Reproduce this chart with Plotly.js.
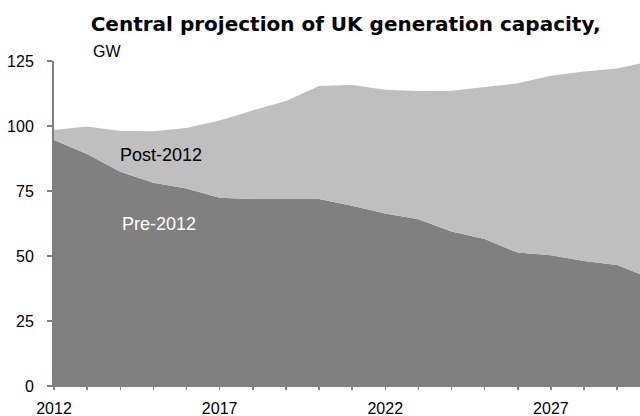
<!DOCTYPE html>
<html>
<head>
<meta charset="utf-8">
<script src="https://cdn.plot.ly/plotly-3.0.1.min.js"></script>
<style>
  html, body { margin: 0; padding: 0; background: #ffffff; }
  #chart { width: 640px; height: 416px; }
</style>
</head>
<body>
<div id="chart"></div>
<script>
// ---- Data (GW) ----
const years = [2012, 2013, 2014, 2015, 2016, 2017, 2018, 2019, 2020, 2021,
               2022, 2023, 2024, 2025, 2026, 2027, 2028, 2029, 2030];
const pre2012 = [94.6, 89.2, 82.4, 78.2, 76.0, 72.4, 71.9, 71.9, 71.9, 69.3,
                 66.3, 64.1, 59.4, 56.5, 51.3, 50.3, 48.1, 46.5, 41.6];
const post2012 = [3.9, 10.6, 15.7, 19.8, 23.2, 29.7, 34.1, 37.7, 43.5, 46.5,
                  47.6, 49.4, 54.2, 58.6, 65.1, 69.0, 72.9, 75.6, 83.3];
const xTickVals = [2012, 2017, 2022, 2027];
const xTickText = ['2012', '2017', '2022', '2027'];
const yTickVals = [0, 25, 50, 75, 100, 125];
const seriesNames = ['Pre-2012', 'Post-2012'];
const titleText = 'Central projection of UK generation capacity,';
const unitText = 'GW';

const baseFont = 'Liberation Sans, Arial, sans-serif';

const traces = [
  {
    x: years, y: pre2012, name: seriesNames[0],
    type: 'scatter', mode: 'lines', stackgroup: 'one',
    line: { width: 0, color: '#808080' }, fillcolor: '#808080',
    hoverinfo: 'skip'
  },
  {
    x: years, y: post2012, name: seriesNames[1],
    type: 'scatter', mode: 'lines', stackgroup: 'one',
    line: { width: 0, color: '#bfbfbf' }, fillcolor: '#bfbfbf',
    hoverinfo: 'skip'
  }
];

const layout = {
  width: 640, height: 416,
  margin: { l: 54, r: 0, t: 61, b: 30, pad: 0 },
  paper_bgcolor: '#ffffff', plot_bgcolor: '#ffffff',
  showlegend: false,
  font: { family: baseFont, size: 16, color: '#000000' },
  title: {
    text: '<b>' + titleText + '</b>',
    font: { family: 'DejaVu Sans, sans-serif', size: 20, color: '#000000' },
    x: 90.7 / 640, xanchor: 'left', xref: 'container',
    y: 0.958, yanchor: 'top', yref: 'container'
  },
  xaxis: {
    range: [2012, 2029.69],
    tickvals: xTickVals, ticktext: xTickText,
    ticks: 'outside', ticklen: 3, tickwidth: 1.5, tickcolor: '#808080',
    minor: { dtick: 1, tick0: 2012, ticks: 'outside', ticklen: 3, tickwidth: 1.5, tickcolor: '#808080', showgrid: false },
    showline: true, linecolor: '#808080', linewidth: 1,
    showgrid: false, zeroline: false,
    tickfont: { family: baseFont, size: 16, color: '#000000' },
    ticklabelstandoff: 5
  },
  yaxis: {
    range: [0, 125],
    tickvals: yTickVals,
    ticks: 'outside', ticklen: 5, tickwidth: 1.5, tickcolor: '#808080',
    showline: true, linecolor: '#808080', linewidth: 2,
    showgrid: false, zeroline: false,
    tickfont: { family: baseFont, size: 16, color: '#000000' },
    ticklabelstandoff: 10
  },
  annotations: [
    {
      text: unitText, xref: 'paper', yref: 'paper',
      x: (90.7 - 54) / 586, y: 1 + (61 - 51) / 325,
      xanchor: 'left', yanchor: 'middle', showarrow: false,
      font: { family: baseFont, size: 16, color: '#000000' }
    },
    {
      text: seriesNames[1], xref: 'x', yref: 'y',
      x: 2015.23, y: 88.7, xanchor: 'center', yanchor: 'middle', showarrow: false,
      font: { family: baseFont, size: 18, color: '#000000' }
    },
    {
      text: seriesNames[0], xref: 'x', yref: 'y',
      x: 2015.17, y: 62.3, xanchor: 'center', yanchor: 'middle', showarrow: false,
      font: { family: baseFont, size: 18, color: '#ffffff' }
    }
  ]
};

Plotly.newPlot('chart', traces, layout, { displayModeBar: false, staticPlot: true });
</script>
</body>
</html>
